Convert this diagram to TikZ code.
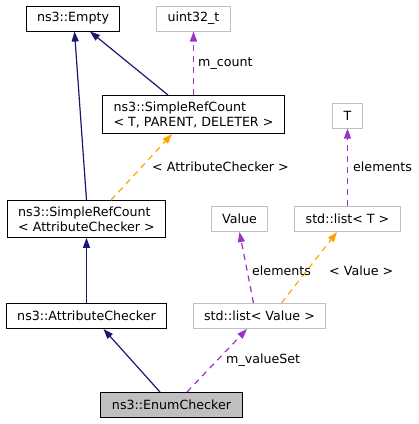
\documentclass[tikz,border=0pt]{standalone}
\usepackage{fontspec}
\setmainfont{DejaVu Sans}
\usepackage{xcolor}
\usetikzlibrary{arrows.meta}
\definecolor{edgeblue}{RGB}{25,25,112}
\definecolor{edgepurple}{RGB}{154,50,205}
\definecolor{edgeorange}{RGB}{255,165,0}
\definecolor{boxgrey}{RGB}{191,191,191}
\tikzset{
	cls/.style={draw=black, line width=1bp, inner xsep=11bp, inner ysep=0pt, minimum height=25bp, align=left, font=\fontsize{12.7}{15}\selectfont},
	twoline/.style={inner ysep=6bp},
	ext/.style={cls, draw=boxgrey},
	cur/.style={cls, fill=boxgrey},
	inherit/.style={edgeblue, line width=1.2bp, -{Triangle[length=10bp,width=7bp]}},
	usage/.style={edgepurple, line width=1.2bp, dash pattern=on 6bp off 5bp, -{Triangle[length=10bp,width=7bp]}},
	tmpl/.style={edgeorange, line width=1.2bp, dash pattern=on 6bp off 5bp, -{Triangle[length=10bp,width=7bp]}},
	lbl/.style={anchor=base west, inner sep=0pt, font=\fontsize{12.7}{15}\selectfont}
}

\begin{document}
\begin{tikzpicture}[x=1bp, y=-1bp]
			\useasboundingbox (0,0) rectangle (419,424);
			% classes
			\node[cls] (empty) at (73,18.5) {ns3::Empty};
			\node[ext] (uint) at (193.5,18.5) {uint32\_t};
			\node[cls,twoline] (srctpd) at (193.5,114.5) {ns3::SimpleRefCount\\< T, PARENT, DELETER >};
			\node[ext] (tnode) at (347.5,115.5) {T};
			\node[cls,twoline] (srcac) at (86.5,219) {ns3::SimpleRefCount\\< AttributeChecker >};
			\node[ext] (value) at (239.5,219) {Value};
			\node[ext] (listt) at (347.5,219) {std::list< T >};
			\node[cls] (attrchk) at (86.5,316) {ns3::AttributeChecker};
			\node[ext] (listv) at (259.5,316) {std::list< Value >};
			\node[cur] (enumchk) at (171.5,405) {ns3::EnumChecker};
			% edges
			\draw[inherit] (srcac.north) -- ([xshift=1.5bp]empty.south);
			\draw[inherit] ([xshift=-25.5bp]srctpd.north) -- ([xshift=17bp]empty.south);
			\draw[usage] (srctpd.north) -- (uint.south);
			\draw[tmpl] ([xshift=24.5bp]srcac.north) -- ([xshift=-21.5bp]srctpd.south);
			\draw[inherit] (attrchk.north) -- (srcac.south);
			\draw[inherit] ([xshift=-11.5bp]enumchk.north) -- ([xshift=17bp]attrchk.south);
			\draw[usage] ([xshift=15.5bp]enumchk.north) -- ([xshift=-12.5bp]listv.south);
			\draw[usage] ([xshift=-6bp]listv.north) -- (value.south);
			\draw[tmpl] ([xshift=22bp]listv.north) -- ([xshift=-10.5bp]listt.south);
			\draw[usage] (listt.north) -- (tnode.south);
			% labels
			\node[lbl] (lcount) at (198,66) {m\_count};
			\node[lbl] (lac) at (152,171) {< AttributeChecker >};
			\node[lbl] (lelemt) at (353,171) {elements};
			\node[lbl] (lelemv) at (252,275) {elements};
			\node[lbl] (lval) at (329,275) {< Value >};
			\node[lbl] (lvset) at (226,363) {m\_valueSet};
		\end{tikzpicture}
\end{document}
